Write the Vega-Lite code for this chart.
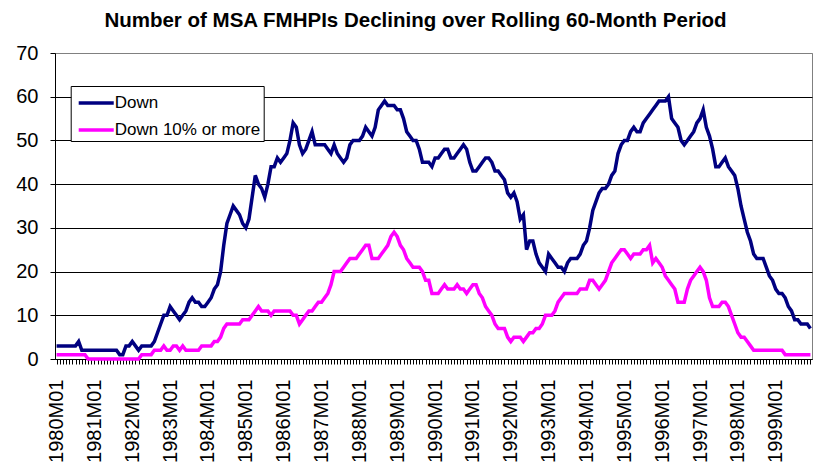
{
"$schema":"https://vega.github.io/schema/vega-lite/v6.json",
"width":757,"height":306,
"autosize":{"type":"none"},
"padding":{"left":55,"top":53,"right":19,"bottom":111},
"background":"white",
"title":{"text":"Number of MSA FMHPIs Declining over Rolling 60-Month Period","font":"Liberation Sans","fontSize":20.5,"fontWeight":"bold","color":"black","anchor":"middle","dx":-18,"offset":12},
"config":{"view":{"stroke":"#808080","strokeWidth":1},"font":"Liberation Sans"},
"data":{"values":[
{"m":"1980M01","Down":3,"Down 10% or more":1},{"m":"1980M02","Down":3,"Down 10% or more":1},{"m":"1980M03","Down":3,"Down 10% or more":1},{"m":"1980M04","Down":3,"Down 10% or more":1},{"m":"1980M05","Down":3,"Down 10% or more":1},{"m":"1980M06","Down":3,"Down 10% or more":1},{"m":"1980M07","Down":3,"Down 10% or more":1},{"m":"1980M08","Down":4,"Down 10% or more":1},{"m":"1980M09","Down":2,"Down 10% or more":1},{"m":"1980M10","Down":2,"Down 10% or more":1},{"m":"1980M11","Down":2,"Down 10% or more":0},{"m":"1980M12","Down":2,"Down 10% or more":0},
{"m":"1981M01","Down":2,"Down 10% or more":0},{"m":"1981M02","Down":2,"Down 10% or more":0},{"m":"1981M03","Down":2,"Down 10% or more":0},{"m":"1981M04","Down":2,"Down 10% or more":0},{"m":"1981M05","Down":2,"Down 10% or more":0},{"m":"1981M06","Down":2,"Down 10% or more":0},{"m":"1981M07","Down":2,"Down 10% or more":0},{"m":"1981M08","Down":2,"Down 10% or more":0},{"m":"1981M09","Down":1,"Down 10% or more":0},{"m":"1981M10","Down":1,"Down 10% or more":0},{"m":"1981M11","Down":3,"Down 10% or more":0},{"m":"1981M12","Down":3,"Down 10% or more":0},
{"m":"1982M01","Down":4,"Down 10% or more":0},{"m":"1982M02","Down":3,"Down 10% or more":0},{"m":"1982M03","Down":2,"Down 10% or more":0},{"m":"1982M04","Down":3,"Down 10% or more":1},{"m":"1982M05","Down":3,"Down 10% or more":1},{"m":"1982M06","Down":3,"Down 10% or more":1},{"m":"1982M07","Down":3,"Down 10% or more":1},{"m":"1982M08","Down":4,"Down 10% or more":2},{"m":"1982M09","Down":6,"Down 10% or more":2},{"m":"1982M10","Down":8,"Down 10% or more":2},{"m":"1982M11","Down":10,"Down 10% or more":3},{"m":"1982M12","Down":10,"Down 10% or more":2},
{"m":"1983M01","Down":12,"Down 10% or more":2},{"m":"1983M02","Down":11,"Down 10% or more":3},{"m":"1983M03","Down":10,"Down 10% or more":3},{"m":"1983M04","Down":9,"Down 10% or more":2},{"m":"1983M05","Down":10,"Down 10% or more":3},{"m":"1983M06","Down":11,"Down 10% or more":2},{"m":"1983M07","Down":13,"Down 10% or more":2},{"m":"1983M08","Down":14,"Down 10% or more":2},{"m":"1983M09","Down":13,"Down 10% or more":2},{"m":"1983M10","Down":13,"Down 10% or more":2},{"m":"1983M11","Down":12,"Down 10% or more":3},{"m":"1983M12","Down":12,"Down 10% or more":3},
{"m":"1984M01","Down":13,"Down 10% or more":3},{"m":"1984M02","Down":14,"Down 10% or more":3},{"m":"1984M03","Down":16,"Down 10% or more":4},{"m":"1984M04","Down":17,"Down 10% or more":4},{"m":"1984M05","Down":20,"Down 10% or more":5},{"m":"1984M06","Down":26,"Down 10% or more":7},{"m":"1984M07","Down":31,"Down 10% or more":8},{"m":"1984M08","Down":33,"Down 10% or more":8},{"m":"1984M09","Down":35,"Down 10% or more":8},{"m":"1984M10","Down":34,"Down 10% or more":8},{"m":"1984M11","Down":33,"Down 10% or more":8},{"m":"1984M12","Down":31,"Down 10% or more":9},
{"m":"1985M01","Down":30,"Down 10% or more":9},{"m":"1985M02","Down":32,"Down 10% or more":9},{"m":"1985M03","Down":37,"Down 10% or more":10},{"m":"1985M04","Down":42,"Down 10% or more":11},{"m":"1985M05","Down":40,"Down 10% or more":12},{"m":"1985M06","Down":39,"Down 10% or more":11},{"m":"1985M07","Down":37,"Down 10% or more":11},{"m":"1985M08","Down":40,"Down 10% or more":11},{"m":"1985M09","Down":44,"Down 10% or more":10},{"m":"1985M10","Down":44,"Down 10% or more":11},{"m":"1985M11","Down":46,"Down 10% or more":11},{"m":"1985M12","Down":45,"Down 10% or more":11},
{"m":"1986M01","Down":46,"Down 10% or more":11},{"m":"1986M02","Down":47,"Down 10% or more":11},{"m":"1986M03","Down":50,"Down 10% or more":11},{"m":"1986M04","Down":54,"Down 10% or more":10},{"m":"1986M05","Down":53,"Down 10% or more":10},{"m":"1986M06","Down":49,"Down 10% or more":8},{"m":"1986M07","Down":47,"Down 10% or more":9},{"m":"1986M08","Down":48,"Down 10% or more":10},{"m":"1986M09","Down":50,"Down 10% or more":11},{"m":"1986M10","Down":52,"Down 10% or more":11},{"m":"1986M11","Down":49,"Down 10% or more":12},{"m":"1986M12","Down":49,"Down 10% or more":13},
{"m":"1987M01","Down":49,"Down 10% or more":13},{"m":"1987M02","Down":49,"Down 10% or more":14},{"m":"1987M03","Down":48,"Down 10% or more":15},{"m":"1987M04","Down":47,"Down 10% or more":17},{"m":"1987M05","Down":49,"Down 10% or more":20},{"m":"1987M06","Down":47,"Down 10% or more":20},{"m":"1987M07","Down":46,"Down 10% or more":20},{"m":"1987M08","Down":45,"Down 10% or more":21},{"m":"1987M09","Down":46,"Down 10% or more":22},{"m":"1987M10","Down":49,"Down 10% or more":23},{"m":"1987M11","Down":50,"Down 10% or more":23},{"m":"1987M12","Down":50,"Down 10% or more":23},
{"m":"1988M01","Down":50,"Down 10% or more":24},{"m":"1988M02","Down":51,"Down 10% or more":25},{"m":"1988M03","Down":53,"Down 10% or more":26},{"m":"1988M04","Down":52,"Down 10% or more":26},{"m":"1988M05","Down":51,"Down 10% or more":23},{"m":"1988M06","Down":53,"Down 10% or more":23},{"m":"1988M07","Down":57,"Down 10% or more":23},{"m":"1988M08","Down":58,"Down 10% or more":24},{"m":"1988M09","Down":59,"Down 10% or more":25},{"m":"1988M10","Down":58,"Down 10% or more":26},{"m":"1988M11","Down":58,"Down 10% or more":28},{"m":"1988M12","Down":58,"Down 10% or more":29},
{"m":"1989M01","Down":57,"Down 10% or more":28},{"m":"1989M02","Down":57,"Down 10% or more":26},{"m":"1989M03","Down":55,"Down 10% or more":25},{"m":"1989M04","Down":52,"Down 10% or more":23},{"m":"1989M05","Down":51,"Down 10% or more":22},{"m":"1989M06","Down":50,"Down 10% or more":21},{"m":"1989M07","Down":50,"Down 10% or more":21},{"m":"1989M08","Down":48,"Down 10% or more":21},{"m":"1989M09","Down":45,"Down 10% or more":20},{"m":"1989M10","Down":45,"Down 10% or more":18},{"m":"1989M11","Down":45,"Down 10% or more":18},{"m":"1989M12","Down":44,"Down 10% or more":15},
{"m":"1990M01","Down":46,"Down 10% or more":15},{"m":"1990M02","Down":46,"Down 10% or more":15},{"m":"1990M03","Down":47,"Down 10% or more":16},{"m":"1990M04","Down":48,"Down 10% or more":17},{"m":"1990M05","Down":48,"Down 10% or more":16},{"m":"1990M06","Down":46,"Down 10% or more":16},{"m":"1990M07","Down":46,"Down 10% or more":16},{"m":"1990M08","Down":47,"Down 10% or more":17},{"m":"1990M09","Down":48,"Down 10% or more":16},{"m":"1990M10","Down":49,"Down 10% or more":16},{"m":"1990M11","Down":48,"Down 10% or more":15},{"m":"1990M12","Down":45,"Down 10% or more":16},
{"m":"1991M01","Down":43,"Down 10% or more":17},{"m":"1991M02","Down":43,"Down 10% or more":17},{"m":"1991M03","Down":44,"Down 10% or more":15},{"m":"1991M04","Down":45,"Down 10% or more":14},{"m":"1991M05","Down":46,"Down 10% or more":12},{"m":"1991M06","Down":46,"Down 10% or more":11},{"m":"1991M07","Down":45,"Down 10% or more":10},{"m":"1991M08","Down":43,"Down 10% or more":8},{"m":"1991M09","Down":43,"Down 10% or more":7},{"m":"1991M10","Down":42,"Down 10% or more":7},{"m":"1991M11","Down":41,"Down 10% or more":7},{"m":"1991M12","Down":38,"Down 10% or more":5},
{"m":"1992M01","Down":37,"Down 10% or more":4},{"m":"1992M02","Down":38,"Down 10% or more":5},{"m":"1992M03","Down":36,"Down 10% or more":5},{"m":"1992M04","Down":32,"Down 10% or more":5},{"m":"1992M05","Down":33,"Down 10% or more":4},{"m":"1992M06","Down":25,"Down 10% or more":5},{"m":"1992M07","Down":27,"Down 10% or more":6},{"m":"1992M08","Down":27,"Down 10% or more":6},{"m":"1992M09","Down":24,"Down 10% or more":7},{"m":"1992M10","Down":22,"Down 10% or more":7},{"m":"1992M11","Down":21,"Down 10% or more":8},{"m":"1992M12","Down":20,"Down 10% or more":10},
{"m":"1993M01","Down":24,"Down 10% or more":10},{"m":"1993M02","Down":23,"Down 10% or more":10},{"m":"1993M03","Down":22,"Down 10% or more":11},{"m":"1993M04","Down":21,"Down 10% or more":13},{"m":"1993M05","Down":21,"Down 10% or more":14},{"m":"1993M06","Down":20,"Down 10% or more":15},{"m":"1993M07","Down":22,"Down 10% or more":15},{"m":"1993M08","Down":23,"Down 10% or more":15},{"m":"1993M09","Down":23,"Down 10% or more":15},{"m":"1993M10","Down":23,"Down 10% or more":15},{"m":"1993M11","Down":24,"Down 10% or more":16},{"m":"1993M12","Down":26,"Down 10% or more":16},
{"m":"1994M01","Down":27,"Down 10% or more":16},{"m":"1994M02","Down":30,"Down 10% or more":18},{"m":"1994M03","Down":34,"Down 10% or more":18},{"m":"1994M04","Down":36,"Down 10% or more":17},{"m":"1994M05","Down":38,"Down 10% or more":16},{"m":"1994M06","Down":39,"Down 10% or more":17},{"m":"1994M07","Down":39,"Down 10% or more":18},{"m":"1994M08","Down":40,"Down 10% or more":20},{"m":"1994M09","Down":42,"Down 10% or more":22},{"m":"1994M10","Down":43,"Down 10% or more":23},{"m":"1994M11","Down":47,"Down 10% or more":24},{"m":"1994M12","Down":49,"Down 10% or more":25},
{"m":"1995M01","Down":50,"Down 10% or more":25},{"m":"1995M02","Down":50,"Down 10% or more":24},{"m":"1995M03","Down":52,"Down 10% or more":23},{"m":"1995M04","Down":53,"Down 10% or more":24},{"m":"1995M05","Down":52,"Down 10% or more":24},{"m":"1995M06","Down":52,"Down 10% or more":24},{"m":"1995M07","Down":54,"Down 10% or more":25},{"m":"1995M08","Down":55,"Down 10% or more":25},{"m":"1995M09","Down":56,"Down 10% or more":26},{"m":"1995M10","Down":57,"Down 10% or more":22},{"m":"1995M11","Down":58,"Down 10% or more":23},{"m":"1995M12","Down":59,"Down 10% or more":22},
{"m":"1996M01","Down":59,"Down 10% or more":21},{"m":"1996M02","Down":59,"Down 10% or more":19},{"m":"1996M03","Down":60,"Down 10% or more":18},{"m":"1996M04","Down":55,"Down 10% or more":17},{"m":"1996M05","Down":54,"Down 10% or more":16},{"m":"1996M06","Down":53,"Down 10% or more":13},{"m":"1996M07","Down":50,"Down 10% or more":13},{"m":"1996M08","Down":49,"Down 10% or more":13},{"m":"1996M09","Down":50,"Down 10% or more":16},{"m":"1996M10","Down":51,"Down 10% or more":18},{"m":"1996M11","Down":52,"Down 10% or more":19},{"m":"1996M12","Down":54,"Down 10% or more":20},
{"m":"1997M01","Down":55,"Down 10% or more":21},{"m":"1997M02","Down":57,"Down 10% or more":20},{"m":"1997M03","Down":53,"Down 10% or more":18},{"m":"1997M04","Down":51,"Down 10% or more":14},{"m":"1997M05","Down":48,"Down 10% or more":12},{"m":"1997M06","Down":44,"Down 10% or more":12},{"m":"1997M07","Down":44,"Down 10% or more":12},{"m":"1997M08","Down":45,"Down 10% or more":13},{"m":"1997M09","Down":46,"Down 10% or more":13},{"m":"1997M10","Down":44,"Down 10% or more":12},{"m":"1997M11","Down":43,"Down 10% or more":10},{"m":"1997M12","Down":42,"Down 10% or more":8},
{"m":"1998M01","Down":39,"Down 10% or more":6},{"m":"1998M02","Down":35,"Down 10% or more":5},{"m":"1998M03","Down":32,"Down 10% or more":5},{"m":"1998M04","Down":29,"Down 10% or more":4},{"m":"1998M05","Down":27,"Down 10% or more":3},{"m":"1998M06","Down":24,"Down 10% or more":2},{"m":"1998M07","Down":23,"Down 10% or more":2},{"m":"1998M08","Down":23,"Down 10% or more":2},{"m":"1998M09","Down":23,"Down 10% or more":2},{"m":"1998M10","Down":21,"Down 10% or more":2},{"m":"1998M11","Down":19,"Down 10% or more":2},{"m":"1998M12","Down":18,"Down 10% or more":2},
{"m":"1999M01","Down":16,"Down 10% or more":2},{"m":"1999M02","Down":15,"Down 10% or more":2},{"m":"1999M03","Down":15,"Down 10% or more":2},{"m":"1999M04","Down":14,"Down 10% or more":1},{"m":"1999M05","Down":12,"Down 10% or more":1},{"m":"1999M06","Down":11,"Down 10% or more":1},{"m":"1999M07","Down":9,"Down 10% or more":1},{"m":"1999M08","Down":9,"Down 10% or more":1},{"m":"1999M09","Down":8,"Down 10% or more":1},{"m":"1999M10","Down":8,"Down 10% or more":1},{"m":"1999M11","Down":8,"Down 10% or more":1},{"m":"1999M12","Down":7,"Down 10% or more":1}
]},
"transform":[{"fold":["Down","Down 10% or more"],"as":["series","value"]}],
"mark":{"type":"line","strokeWidth":3.5},
"encoding":{
"x":{"field":"m","type":"ordinal","scale":{"type":"point","padding":0.5},"axis":{"title":null,"labelAngle":-90,"labelExpr":"slice(datum.value,4)=='M01' ? datum.value : ''","labelOverlap":false,"labelFontSize":20,"labelFont":"Liberation Sans","labelColor":"black","tickColor":"black","tickSize":5,"labelPadding":15,"domainColor":"black","grid":false}},
"y":{"field":"value","type":"quantitative","scale":{"domain":[0,70],"nice":false},"axis":{"title":null,"values":[0,10,20,30,40,50,60,70],"grid":true,"gridColor":{"condition":{"test":"datum.value == 70","value":"#808080"},"value":"black"},"gridOpacity":1,"labelFontSize":20,"labelFont":"Liberation Sans","labelColor":"black","tickColor":"black","tickSize":5,"labelPadding":12,"domainColor":"black"}},
"color":{"field":"series","type":"nominal","scale":{"domain":["Down","Down 10% or more"],"range":["#000080","#FF00FF"]},"legend":{"title":null,"orient":"none","legendX":15.7,"legendY":33,"direction":"vertical","fillColor":"white","strokeColor":"black","padding":3,"symbolType":"M-0.75,0H2.17","symbolSize":576,"symbolStrokeWidth":3.5,"labelFontSize":17,"labelFont":"Liberation Sans","labelColor":"black","labelOffset":13,"rowPadding":5}}
}
}
